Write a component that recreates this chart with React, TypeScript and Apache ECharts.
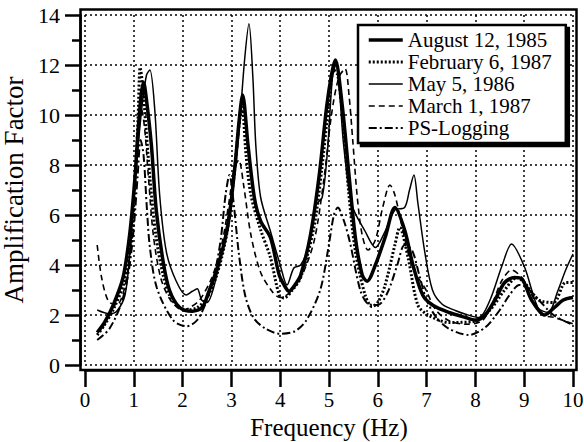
import React, { useEffect, useRef } from "react";
import * as echarts from "echarts";

const FONT = '"Liberation Serif", "Times New Roman", serif';

const xTicks = [0, 1, 2, 3, 4, 5, 6, 7, 8, 9, 10];
const yTicks = [0, 2, 4, 6, 8, 10, 12, 14];

const seriesNames = [
  "August 12, 1985",
  "February 6, 1987",
  "May 5, 1986",
  "March 1, 1987",
  "PS-Logging",
];

// August 12, 1985 (thick solid)
const augF = [0.25,0.4,0.58,0.78,0.92,1.02,1.09,1.15,1.2,1.26,1.36,1.46,1.6,1.73,1.94,2.2,2.4,2.53,2.73,2.93,3.07,3.16,3.23,3.34,3.47,3.6,3.8,3.98,4.11,4.18,4.3,4.42,4.62,4.8,4.95,5.05,5.13,5.27,5.4,5.54,5.68,5.78,5.95,6.15,6.35,6.55,6.72,6.92,7.12,7.46,7.8,8.0,8.2,8.4,8.6,8.8,8.95,9.15,9.42,9.62,9.8,10];
const augA = [1.3,1.7,2.4,3.5,5.3,7.4,9.4,10.8,11.3,10.6,8.8,6.2,4.15,3.0,2.3,2.15,2.3,2.9,4.0,5.6,7.9,9.8,10.8,8.8,6.7,5.75,5.1,3.6,3.1,2.95,3.2,3.6,5.2,7.6,10.3,11.6,12.2,10.4,7.8,5.1,3.6,3.35,4.0,5.1,6.3,5.4,4.0,2.8,2.4,2.1,1.9,1.8,2.0,2.6,3.3,3.5,3.45,2.6,2.0,2.3,2.6,2.7];

// February 6, 1987 (dotted)
const febF = [0.25,0.4,0.6,0.8,0.95,1.03,1.09,1.13,1.18,1.25,1.33,1.45,1.6,1.73,1.9,2.1,2.3,2.5,2.7,2.9,3.05,3.15,3.22,3.3,3.4,3.6,3.8,3.98,4.08,4.25,4.42,4.69,4.85,5.0,5.1,5.18,5.3,5.4,5.54,5.74,5.88,6.0,6.15,6.35,6.45,6.62,6.82,7.03,7.46,8.0,8.3,8.6,8.85,9.0,9.3,9.6,9.85,10];
const febA = [1.2,1.6,2.3,3.3,5.0,7.5,10.0,11.9,11.2,9.5,7.5,5.2,3.6,2.8,2.35,2.2,2.3,2.7,3.6,5.2,7.5,9.5,10.3,8.4,6.8,5.4,4.3,2.8,2.68,3.0,3.5,5.5,7.8,10.5,11.8,11.6,9.5,7.0,4.55,2.8,2.34,2.5,3.2,4.8,5.5,4.3,2.4,2.0,1.7,1.75,2.2,3.0,3.5,3.3,2.6,2.5,3.3,3.3];

// May 5, 1986 (thin solid)
const mayF = [0.25,0.5,0.65,0.82,0.92,1.02,1.16,1.26,1.33,1.43,1.53,1.67,1.87,2.07,2.2,2.3,2.39,2.5,2.7,2.93,3.13,3.27,3.36,3.44,3.5,3.6,3.8,4.0,4.14,4.28,4.42,4.59,4.73,4.86,4.97,5.07,5.14,5.22,5.3,5.47,5.74,5.95,6.15,6.35,6.55,6.65,6.74,6.82,6.96,7.12,7.32,7.6,7.8,8.07,8.3,8.55,8.74,9.01,9.28,9.49,9.69,9.85,10];
const mayA = [2.2,2.05,2.15,2.8,4.5,7.2,10.2,11.6,11.8,10.2,6.8,4.5,3.35,2.8,2.95,3.05,2.6,2.5,3.6,5.9,8.8,12.2,13.65,11.5,8.8,6.7,5.35,4.0,3.2,3.88,4.0,4.8,6.4,6.7,8.6,11.5,12.0,10.8,8.8,6.4,5.35,4.7,5.35,6.2,6.3,7.0,7.6,6.5,4.55,3.0,2.43,2.17,2.03,1.9,2.6,4.0,4.84,3.9,2.3,2.1,2.97,3.8,4.44];

// March 1, 1987 (dashed)
const marF = [0.25,0.34,0.48,0.65,0.8,0.92,1.0,1.08,1.15,1.22,1.3,1.4,1.55,1.75,2.0,2.15,2.35,2.6,2.8,2.95,3.05,3.15,3.25,3.4,3.6,3.85,4.0,4.2,4.45,4.7,4.9,5.05,5.2,5.33,5.41,5.49,5.58,5.68,5.8,5.95,6.1,6.25,6.35,6.49,6.62,6.76,6.96,7.19,7.46,7.8,8.14,8.34,8.54,8.74,8.95,9.15,9.35,9.62,10];
const marA = [4.8,3.5,2.55,2.4,3.0,4.5,6.5,8.8,10.3,9.5,7.5,5.2,3.5,2.6,2.2,2.3,2.6,3.5,4.8,6.5,7.8,8.2,7.2,5.2,3.7,2.9,2.7,2.9,3.6,5.0,7.5,10.0,11.5,11.85,10.8,8.9,6.7,5.2,4.6,5.0,6.3,7.2,6.8,5.6,4.5,3.7,3.1,2.2,1.77,1.63,1.77,2.43,3.37,3.8,3.5,2.83,2.03,1.9,1.65];

// PS-Logging (dash-dot)
const psF = [0.25,0.5,0.75,0.9,1.0,1.08,1.14,1.2,1.27,1.33,1.47,1.8,2.08,2.3,2.5,2.65,2.78,2.88,2.96,3.05,3.15,3.28,3.45,3.7,4.0,4.3,4.54,4.82,4.98,5.1,5.18,5.3,5.43,5.64,5.8,6.0,6.2,6.4,6.55,6.7,6.85,7.0,7.2,7.46,7.86,8.2,8.5,8.7,8.9,9.05,9.3,9.6,10];
const psA = [1.0,1.45,2.5,3.8,5.5,7.6,9.0,8.4,6.2,4.7,3.1,1.8,1.55,1.8,2.6,3.6,5.0,6.8,7.6,6.4,4.5,2.8,1.9,1.45,1.25,1.35,1.8,3.0,4.6,6.0,6.3,5.8,4.9,3.0,2.45,2.4,2.9,4.0,4.8,4.6,3.6,2.6,1.9,1.45,1.2,1.5,2.2,2.8,3.2,3.1,2.6,2.0,1.6];

const seriesData = [
  { f: augF, a: augA, width: 3.5, type: "solid" as any, z: 6 },
  { f: febF, a: febA, width: 3, type: [2, 2] as any, z: 4 },
  { f: mayF, a: mayA, width: 1.5, type: "solid" as any, z: 5 },
  { f: marF, a: marA, width: 1.6, type: [6, 4] as any, z: 3 },
  { f: psF, a: psA, width: 2, type: [8, 3, 2, 3] as any, z: 2 },
];

export default function App() {
  const ref = useRef<HTMLDivElement>(null);
  useEffect(() => {
    if (!ref.current) return;
    const chart = echarts.init(ref.current, undefined, { renderer: "svg" });
    const lineStyleOf = () => ({ color: "#000", width: 2.5 });
    const option: any = {
      animation: false,
      backgroundColor: "#fff",
      textStyle: { fontFamily: FONT, color: "#000" },
      grid: { left: 85, right: 11, top: 15, bottom: 77, containLabel: false, outerBoundsMode: "none" },
      xAxis: {
        type: "value",
        min: xTicks[0],
        max: xTicks[xTicks.length - 1],
        interval: 1,
        offset: 5,
        axisLine: { show: true, onZero: false, lineStyle: lineStyleOf() },
        axisTick: { show: true, inside: false, length: 17, lineStyle: lineStyleOf() },
        axisLabel: { color: "#000", fontSize: 21, fontFamily: FONT, margin: 19 },
        splitLine: { show: true, lineStyle: { color: "#000", width: 1.5, type: [2, 3] } },
        name: "Frequency (Hz)",
        nameLocation: "middle",
        nameGap: 38,
        nameTextStyle: { color: "#000", fontSize: 25, fontFamily: FONT },
      },
      yAxis: {
        type: "value",
        min: yTicks[0],
        max: yTicks[yTicks.length - 1],
        interval: 2,
        offset: 5,
        axisLine: { show: true, onZero: false, lineStyle: lineStyleOf() },
        axisTick: { show: true, inside: false, length: 15, lineStyle: lineStyleOf() },
        minorTick: { show: true, splitNumber: 2, length: 8, lineStyle: lineStyleOf() },
        axisLabel: { color: "#000", fontSize: 22, fontFamily: FONT, margin: 20 },
        splitLine: { show: true, lineStyle: { color: "#000", width: 1.5, type: [2, 3] } },
        name: "Amplification Factor",
        nameLocation: "middle",
        nameGap: 48,
        nameTextStyle: { color: "#000", fontSize: 27, fontFamily: FONT },
      },
      legend: {
        orient: "vertical",
        left: 358,
        top: 25,
        padding: [4, 14, 4, 9],
        itemGap: 0,
        itemWidth: 34,
        itemHeight: 14,
        backgroundColor: "#fff",
        borderColor: "#000",
        borderWidth: 2.5,
        borderRadius: 0,
        shadowColor: "#000",
        shadowBlur: 0,
        shadowOffsetX: 3,
        shadowOffsetY: 3,
        selectedMode: false,
        textStyle: { color: "#000", fontSize: 21, fontFamily: FONT, lineHeight: 22 },
        data: seriesNames.map((n, i) => ({
          name: n,
          itemStyle: { color: "rgba(0,0,0,0)", borderWidth: 0, opacity: 0 },
          lineStyle: { width: seriesData[i].width, type: seriesData[i].type, color: "#000", opacity: 1 },
        })),
      },
      graphic: [
        {
          type: "rect",
          z: 100,
          shape: { x: 80.5, y: 9.5, width: 496, height: 360.5 },
          style: { fill: "none", stroke: "#000", lineWidth: 2.5 },
        },
      ],
      series: seriesData.map((s, i) => ({
        name: seriesNames[i],
        type: "line",
        data: s.f.map((x, k) => [x, s.a[k]]),
        symbol: "none",
        smooth: 0.3,
        z: s.z,
        lineStyle: { color: "#000", width: s.width, type: s.type },
        itemStyle: { color: "#000" },
      })),
    };
    chart.setOption(option);
    return () => chart.dispose();
  }, []);
  return (
    <div
      ref={ref}
      style={{ position: "fixed", left: 0, top: 0, width: 584, height: 442, background: "#fff" }}
    />
  );
}
